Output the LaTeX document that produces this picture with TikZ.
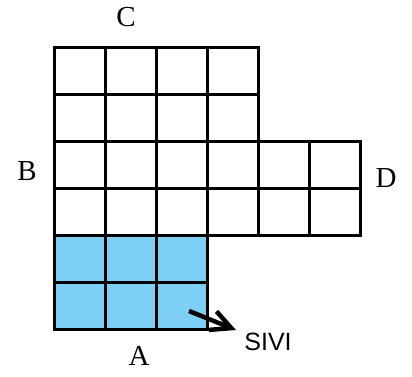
\documentclass[tikz,border=0pt]{standalone}
\usepackage{fontspec}
\setmainfont{Liberation Serif}
\newfontfamily\sivifont{Liberation Sans}
\usetikzlibrary{arrows.meta}
\definecolor{cellblue}{RGB}{126,207,245}
\begin{document}
\begin{tikzpicture}[x=1pt,y=-1pt,
  cell/.style={draw=black,line width=3pt},
  bluecell/.style={cell,fill=cellblue},
  lbl/.style={inner sep=0pt,font=\fontsize{29}{32}\selectfont},
  sivilbl/.style={inner sep=0pt,font=\sivifont\fontsize{25}{28}\selectfont},
  pointer/.style={line width=4.5pt,-{Straight Barb[length=20pt,width=20pt]}}]
\useasboundingbox (0,0) rectangle (412,376);
\foreach \r in {0,1}
  \foreach \c in {0,...,3}
    \draw[cell] ({54+51*\c},{47+47*\r}) rectangle ++(51,47);
\foreach \r in {2,3}
  \foreach \c in {0,...,5}
    \draw[cell] ({54+51*\c},{47+47*\r}) rectangle ++(51,47);
\foreach \r in {4,5}
  \foreach \c in {0,...,2}
    \draw[bluecell] ({54+51*\c},{47+47*\r}) rectangle ++(51,47);
\node[lbl] (C) at (126,17) {C};
\node[lbl] (B) at (27,171) {B};
\node[lbl] (D) at (386,178) {D};
\node[lbl] (A) at (139,356) {A};
\node[sivilbl] (sivi) at (268,342) {SIVI};
\coordinate (arrS) at (189,311);
\coordinate (arrT) at (236,330);
\draw[pointer] (arrS) -- (arrT);
\end{tikzpicture}
\end{document}
